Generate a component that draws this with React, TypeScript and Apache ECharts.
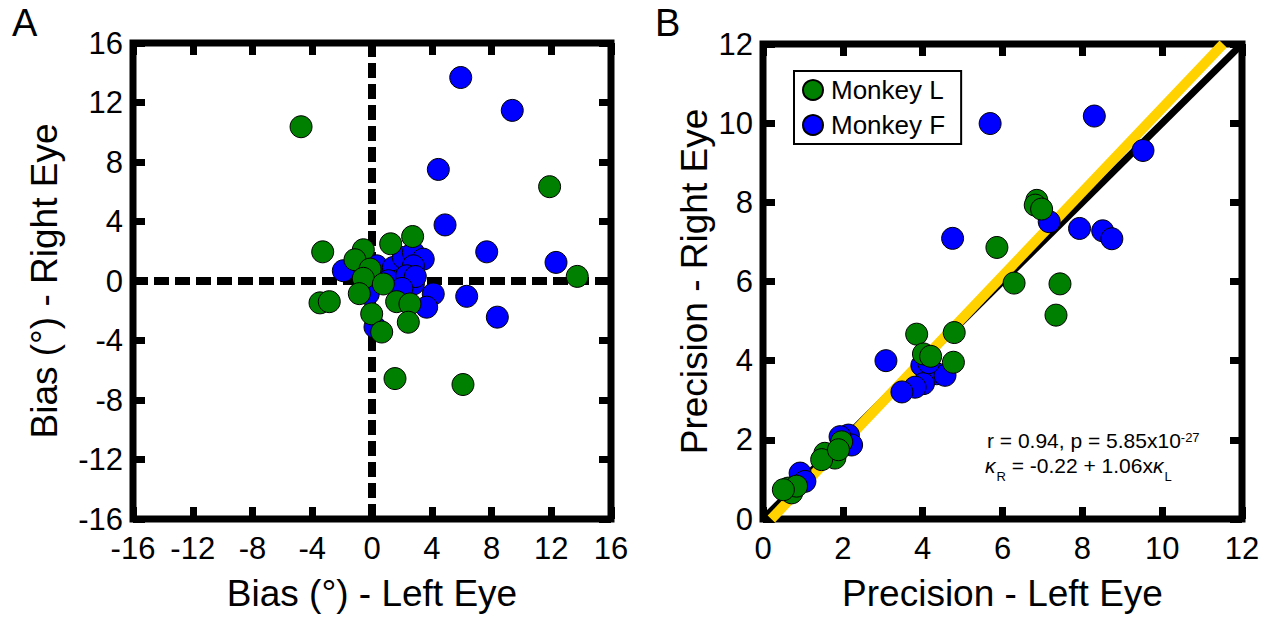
import React, { useEffect, useRef } from "react";
import * as echarts from "echarts";

// Panel A: bias (deg), left eye (x) vs right eye (y)
const A_TICKS = { min: -16, max: 16, interval: 4 };
const A_F_X = [5.94, 9.39, 4.44, 4.89, 7.68, 12.32, 6.34, 8.39, 4.1, 3.66, -1.92, 0.31, 1.43, 2.1, 2.77, 3.43, 2.77, 1.76, 2.77, 1.09, -0.25, 0.2, 2.32, 2.9, 2.0];
const A_F_Y = [13.68, 11.47, 7.5, 3.77, 1.96, 1.25, -1.03, -2.43, -0.87, -1.76, 0.69, 1.02, 0.91, 1.58, 1.92, 1.47, 1.02, 0.02, -0.2, 0.02, -0.87, -3.1, 0.35, 0.3, -0.5];
const A_L_X = [-4.75, 11.89, 13.74, 6.09, 1.54, -3.3, -0.58, -1.14, 1.25, 2.72, -0.13, -0.58, 0.76, -0.85, -3.48, -2.86, -0.02, 1.65, 2.54, 2.43, 0.65];
const A_L_Y = [10.37, 6.34, 0.31, -6.96, -6.56, 1.96, 2.1, 1.43, 2.5, 2.99, 0.8, 0.18, -0.2, -0.85, -1.47, -1.39, -2.21, -1.39, -1.54, -2.77, -3.43];
const A_ZERO_V = [[0, -16], [0, 16]];
const A_ZERO_H = [[-16, 0], [16, 0]];

// Panel B: precision, left eye (x) vs right eye (y)
const B_TICKS = { min: 0, max: 12, interval: 2 };
const B_F_X = [5.69, 8.3, 9.52, 4.75, 7.17, 7.93, 8.51, 8.74, 3.08, 3.98, 4.35, 4.56, 4.02, 3.81, 3.48, 2.14, 2.22, 1.93, 0.93, 1.05, 4.15];
const B_F_Y = [9.99, 10.18, 9.31, 7.09, 7.51, 7.34, 7.28, 7.08, 4.0, 3.88, 3.67, 3.63, 3.42, 3.33, 3.21, 2.12, 1.87, 2.08, 1.16, 0.95, 3.95];
const B_L_X = [6.86, 6.82, 6.98, 5.86, 6.29, 7.44, 7.34, 3.85, 4.79, 4.02, 4.2, 4.77, 1.97, 1.55, 1.8, 1.47, 1.89, 0.63, 0.72, 0.84, 0.51];
const B_L_Y = [8.05, 7.93, 7.83, 6.86, 5.96, 5.94, 5.15, 4.67, 4.71, 4.17, 4.11, 3.96, 1.95, 1.66, 1.54, 1.5, 1.75, 0.78, 0.66, 0.83, 0.74];
const IDENTITY = [[0, 0], [12, 12]];
const FIT_INTERCEPT = -0.22;
const FIT_SLOPE = 1.06;
const SERIES_NAMES = ["Monkey L", "Monkey F"];

const GREEN = "#008000";
const BLUE = "#0000FF";
const YELLOW = "#FFD200";
const FONT = "Liberation Sans, Arial, sans-serif";

const zip = (xs: number[], ys: number[]) => xs.map((x, i) => [x, ys[i]]);

export default function App() {
  const ref = useRef<HTMLDivElement>(null);
  useEffect(() => {
    document.body.style.margin = "0";
    if (!ref.current) return;
    const chart = echarts.init(ref.current, undefined, { renderer: "svg" });

    const fitPts = [
      [(0 - FIT_INTERCEPT) / FIT_SLOPE, 0],
      [(12 - FIT_INTERCEPT) / FIT_SLOPE, 12],
    ];

    const tick = { show: true, inside: true, length: 12, lineStyle: { color: "#000", width: 7 } };
    const label = { fontSize: 31, color: "#000", fontFamily: FONT };
    const nameStyle = { fontSize: 37, color: "#000", fontFamily: FONT };
    const noLine = { show: false, onZero: false };

    const mainX = (grid: number, t: any, name: string) => ({
      type: "value", gridIndex: grid, position: "bottom", ...t,
      axisLine: noLine, axisTick: tick, splitLine: { show: false },
      axisLabel: { ...label, margin: 14 },
      name, nameLocation: "middle", nameGap: 56, nameTextStyle: nameStyle,
    });
    const mainY = (grid: number, t: any, name: string, gap: number) => ({
      type: "value", gridIndex: grid, position: "left", ...t,
      axisLine: noLine, axisTick: tick, splitLine: { show: false },
      axisLabel: { ...label, margin: 10 },
      name, nameLocation: "middle", nameGap: gap, nameTextStyle: nameStyle,
    });
    const sideAxis = (grid: number, t: any, position: string) => ({
      type: "value", gridIndex: grid, position, ...t,
      axisLine: noLine, axisTick: tick, splitLine: { show: false },
      axisLabel: { show: false },
    });

    const scatter = (name: string, color: string, data: number[][], gi: number) => ({
      type: "scatter", name, xAxisIndex: gi, yAxisIndex: gi, data,
      symbol: "circle", symbolSize: 22,
      itemStyle: { color, borderColor: "#000", borderWidth: 1, opacity: 1 },
      emphasis: { disabled: true }, z: 5,
    });
    const line = (data: number[][], gi: number, color: string, width: number, type: any, z: number) => ({
      type: "line", xAxisIndex: gi, yAxisIndex: gi, data, symbol: "none",
      lineStyle: { color, width, type, cap: "butt" }, silent: true, z,
      emphasis: { disabled: true },
    });

    chart.setOption({
      animation: false,
      grid: [
        { left: 133, top: 43, width: 478, height: 478, show: true, borderColor: "#000", borderWidth: 7, backgroundColor: "transparent" },
        { left: 763, top: 44, width: 479, height: 479, show: true, borderColor: "#000", borderWidth: 7, backgroundColor: "transparent" },
      ],
      xAxis: [
        mainX(0, A_TICKS, "Bias (°) - Left Eye"),
        mainX(1, B_TICKS, "Precision - Left Eye"),
        sideAxis(0, A_TICKS, "top"),
        sideAxis(1, B_TICKS, "top"),
      ],
      yAxis: [
        mainY(0, A_TICKS, "Bias (°) - Right Eye", 70),
        mainY(1, B_TICKS, "Precision - Right Eye", 50),
        sideAxis(0, A_TICKS, "right"),
        sideAxis(1, B_TICKS, "right"),
      ],
      legend: {
        data: SERIES_NAMES,
        orient: "vertical",
        left: 794, top: 71,
        backgroundColor: "#fff",
        borderColor: "#000", borderWidth: 2,
        padding: [6, 16, 6, 8],
        itemWidth: 26, itemHeight: 20, itemGap: 9,
        icon: "circle",
        textStyle: { fontSize: 26, color: "#000", fontFamily: FONT },
        selectedMode: false,
      },
      graphic: [
        { type: "text", left: 12, top: 4, style: { text: "A", fontSize: 38, fill: "#000", fontFamily: FONT } },
        { type: "text", left: 655, top: 4, style: { text: "B", fontSize: 38, fill: "#000", fontFamily: FONT } },
        {
          type: "text", x: 987, y: 430, z: 10,
          style: {
            text: "{a|r = 0.94, p = 5.85x10}{s|-27}",
            fill: "#000", fontFamily: FONT,
            rich: {
              a: { fontSize: 21, fontFamily: FONT, lineHeight: 22, verticalAlign: "top" },
              s: { fontSize: 13, fontFamily: FONT, lineHeight: 13, verticalAlign: "top", padding: [1, 0, 0, 0] },
            },
          },
        },
        {
          type: "text", x: 985, y: 455, z: 10,
          style: {
            text: "{k|κ}{b|R}{a| = -0.22 + 1.06x}{k|κ}{b|L}",
            fill: "#000", fontFamily: FONT,
            rich: {
              a: { fontSize: 21, fontFamily: FONT, lineHeight: 22, verticalAlign: "top" },
              k: { fontSize: 21, fontFamily: FONT, fontStyle: "italic", lineHeight: 22, verticalAlign: "top" },
              b: { fontSize: 13, fontFamily: FONT, lineHeight: 13, verticalAlign: "top", padding: [15, 0, 0, 1] },
            },
          },
        },
      ],
      series: [
        line(A_ZERO_V, 0, "#000", 8, [15, 6], 2),
        line(A_ZERO_H, 0, "#000", 8, [15, 6], 2),
        scatter(SERIES_NAMES[1], BLUE, zip(A_F_X, A_F_Y), 0),
        scatter(SERIES_NAMES[0], GREEN, zip(A_L_X, A_L_Y), 0),
        line(IDENTITY, 1, "#000", 7, "solid", 2),
        line(fitPts, 1, YELLOW, 10, "solid", 3),
        scatter(SERIES_NAMES[1], BLUE, zip(B_F_X, B_F_Y), 1),
        scatter(SERIES_NAMES[0], GREEN, zip(B_L_X, B_L_Y), 1),
      ],
    });
    return () => chart.dispose();
  }, []);
  return <div ref={ref} style={{ width: 1266, height: 617 }} />;
}
